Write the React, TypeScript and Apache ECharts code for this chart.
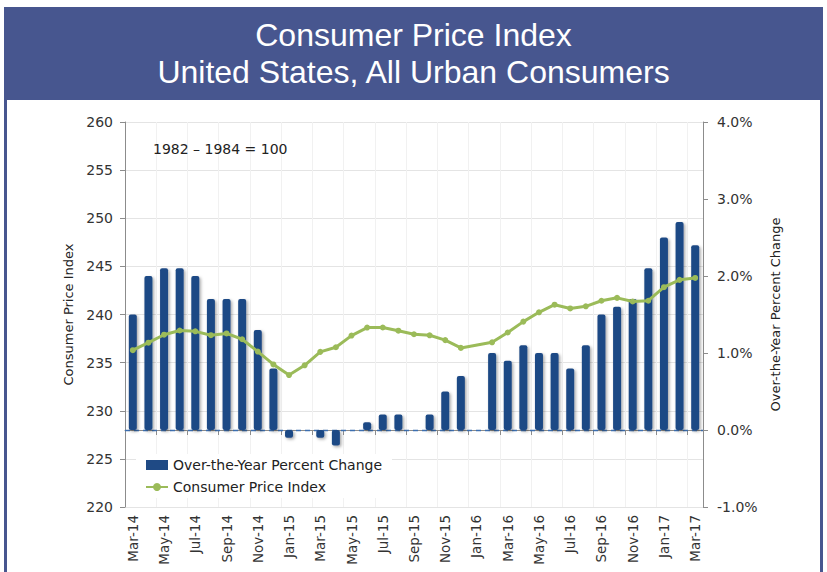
import React, { useEffect, useRef } from "react";
import * as echarts from "echarts";

const months = [
  "Mar-14", "Apr-14", "May-14", "Jun-14", "Jul-14", "Aug-14", "Sep-14", "Oct-14", "Nov-14", "Dec-14",
  "Jan-15", "Feb-15", "Mar-15", "Apr-15", "May-15", "Jun-15", "Jul-15", "Aug-15", "Sep-15", "Oct-15", "Nov-15", "Dec-15",
  "Jan-16", "Feb-16", "Mar-16", "Apr-16", "May-16", "Jun-16", "Jul-16", "Aug-16", "Sep-16", "Oct-16", "Nov-16", "Dec-16",
  "Jan-17", "Feb-17", "Mar-17",
];

const yoyChange: (number | null)[] = [
  1.5, 2.0, 2.1, 2.1, 2.0, 1.7, 1.7, 1.7, 1.3, 0.8,
  -0.1, 0.0, -0.1, -0.2, 0.0, 0.1, 0.2, 0.2, 0.0, 0.2, 0.5, 0.7,
  null, 1.0, 0.9, 1.1, 1.0, 1.0, 0.8, 1.1, 1.5, 1.6, 1.7, 2.1,
  2.5, 2.7, 2.4,
];

const cpiIndex: (number | null)[] = [
  236.29, 237.07, 237.9, 238.34, 238.25, 237.85, 238.03, 237.43, 236.15, 234.81,
  233.71, 234.72, 236.12, 236.6, 237.81, 238.64, 238.65, 238.32, 237.95, 237.84, 237.34, 236.53,
  null, 237.11, 238.13, 239.26, 240.23, 241.02, 240.63, 240.85, 241.43, 241.73, 241.35, 241.43,
  242.84, 243.6, 243.8,
];

const titleLines = ["Consumer Price Index", "United States, All Urban Consumers"];
const baseNote = "1982 – 1984 = 100";
const leftAxisName = "Consumer Price Index";
const rightAxisName = "Over-the-Year Percent Change";
const barName = "Over-the-Year Percent Change";
const lineName = "Consumer Price Index";

const FONT = "'DejaVu Sans', 'Noto Sans', sans-serif";

export default function App() {
  const ref = useRef<HTMLDivElement>(null);
  useEffect(() => {
    if (!ref.current) return;
    const chart = echarts.init(ref.current, undefined, { renderer: "svg" });
    const banner = "#47568f";
    chart.setOption({
      animation: false,
      backgroundColor: "#ffffff",
      textStyle: { fontFamily: FONT },
      graphic: [
        { type: "rect", shape: { x: 4, y: 7, width: 819, height: 93 }, style: { fill: banner }, z: 0 },
        { type: "rect", shape: { x: 4, y: 100, width: 3, height: 472 }, style: { fill: banner }, z: 0 },
        { type: "rect", shape: { x: 820, y: 100, width: 3, height: 472 }, style: { fill: banner }, z: 0 },
        {
          type: "text", x: 413.5, y: 35, z: 10,
          style: { text: titleLines[0], fill: "#ffffff", font: "32px 'Liberation Sans', Arial, sans-serif", align: "center", verticalAlign: "middle" },
        },
        {
          type: "text", x: 413.5, y: 72, z: 10,
          style: { text: titleLines[1], fill: "#ffffff", font: "32px 'Liberation Sans', Arial, sans-serif", align: "center", verticalAlign: "middle" },
        },
        {
          type: "text", x: 153, y: 149, z: 10,
          style: { text: baseNote, fill: "#222222", font: "14px " + FONT, align: "left", verticalAlign: "middle" },
        },
      ],
      grid: { left: 125, right: 124, top: 122, bottom: 65 },
      legend: {
        left: 136,
        top: 454,
        orient: "vertical",
        itemGap: 8,
        itemWidth: 22,
        itemHeight: 10,
        backgroundColor: "#ffffff",
        padding: [4, 10, 4, 9],
        textStyle: { fontSize: 14, color: "#222222", fontFamily: FONT },
        data: [
          { name: barName, icon: "rect" },
          { name: lineName },
        ],
      },
      xAxis: {
        type: "category",
        data: months,
        boundaryGap: true,
        axisLine: { lineStyle: { color: "#8c8c8c" } },
        axisTick: { show: true, interval: 1, length: 5, lineStyle: { color: "#8c8c8c" } },
        axisLabel: { interval: 1, rotate: 90, fontSize: 13.5, color: "#333333", margin: 8, fontFamily: FONT },
        splitLine: { show: true, interval: 1, lineStyle: { color: "#f1f1f1" } },
      },
      yAxis: [
        {
          type: "value",
          min: 220,
          max: 260,
          interval: 5,
          position: "left",
          name: leftAxisName,
          nameLocation: "middle",
          nameRotate: 90,
          nameGap: 42,
          nameTextStyle: { fontSize: 13, color: "#222222", fontFamily: FONT },
          axisLine: { show: true, lineStyle: { color: "#8c8c8c" } },
          axisTick: { show: true, length: 5, lineStyle: { color: "#8c8c8c" } },
          axisLabel: { fontSize: 14, color: "#333333", margin: 12, fontFamily: FONT },
          splitLine: { show: true, lineStyle: { color: "#e4e4e4" } },
        },
        {
          type: "value",
          min: -1,
          max: 4,
          interval: 1,
          position: "right",
          name: rightAxisName,
          nameLocation: "middle",
          nameRotate: 90,
          nameGap: 62,
          nameTextStyle: { fontSize: 13, color: "#222222", fontFamily: FONT },
          axisLine: { show: true, lineStyle: { color: "#8c8c8c" } },
          axisTick: { show: true, length: 5, lineStyle: { color: "#8c8c8c" } },
          axisLabel: { fontSize: 14, color: "#333333", margin: 14, fontFamily: FONT, formatter: (v: number) => v.toFixed(1) + "%" },
          splitLine: { show: false },
        },
      ],
      series: [
        {
          name: barName,
          type: "bar",
          yAxisIndex: 1,
          data: yoyChange,
          barWidth: 8,
          itemStyle: {
            color: "#1f4a85",
            borderRadius: 2,
            shadowBlur: 3,
            shadowColor: "rgba(0,0,0,0.35)",
            shadowOffsetX: 1.5,
            shadowOffsetY: 1.5,
          },
          markLine: {
            silent: true,
            symbol: "none",
            label: { show: false },
            lineStyle: { color: "#3d6fb0", type: [5, 4], width: 1.3 },
            data: [{ yAxis: 0 }],
            z: 1,
          },
          z: 2,
        },
        {
          name: lineName,
          type: "line",
          yAxisIndex: 0,
          data: cpiIndex,
          connectNulls: true,
          symbol: "circle",
          symbolSize: 6,
          showSymbol: true,
          lineStyle: { color: "#9bbb59", width: 3 },
          itemStyle: { color: "#9bbb59" },
          z: 5,
        },
      ],
    });
    return () => chart.dispose();
  }, []);
  return <div ref={ref} style={{ width: 827, height: 572, position: "absolute", left: 0, top: 0 }} />;
}
